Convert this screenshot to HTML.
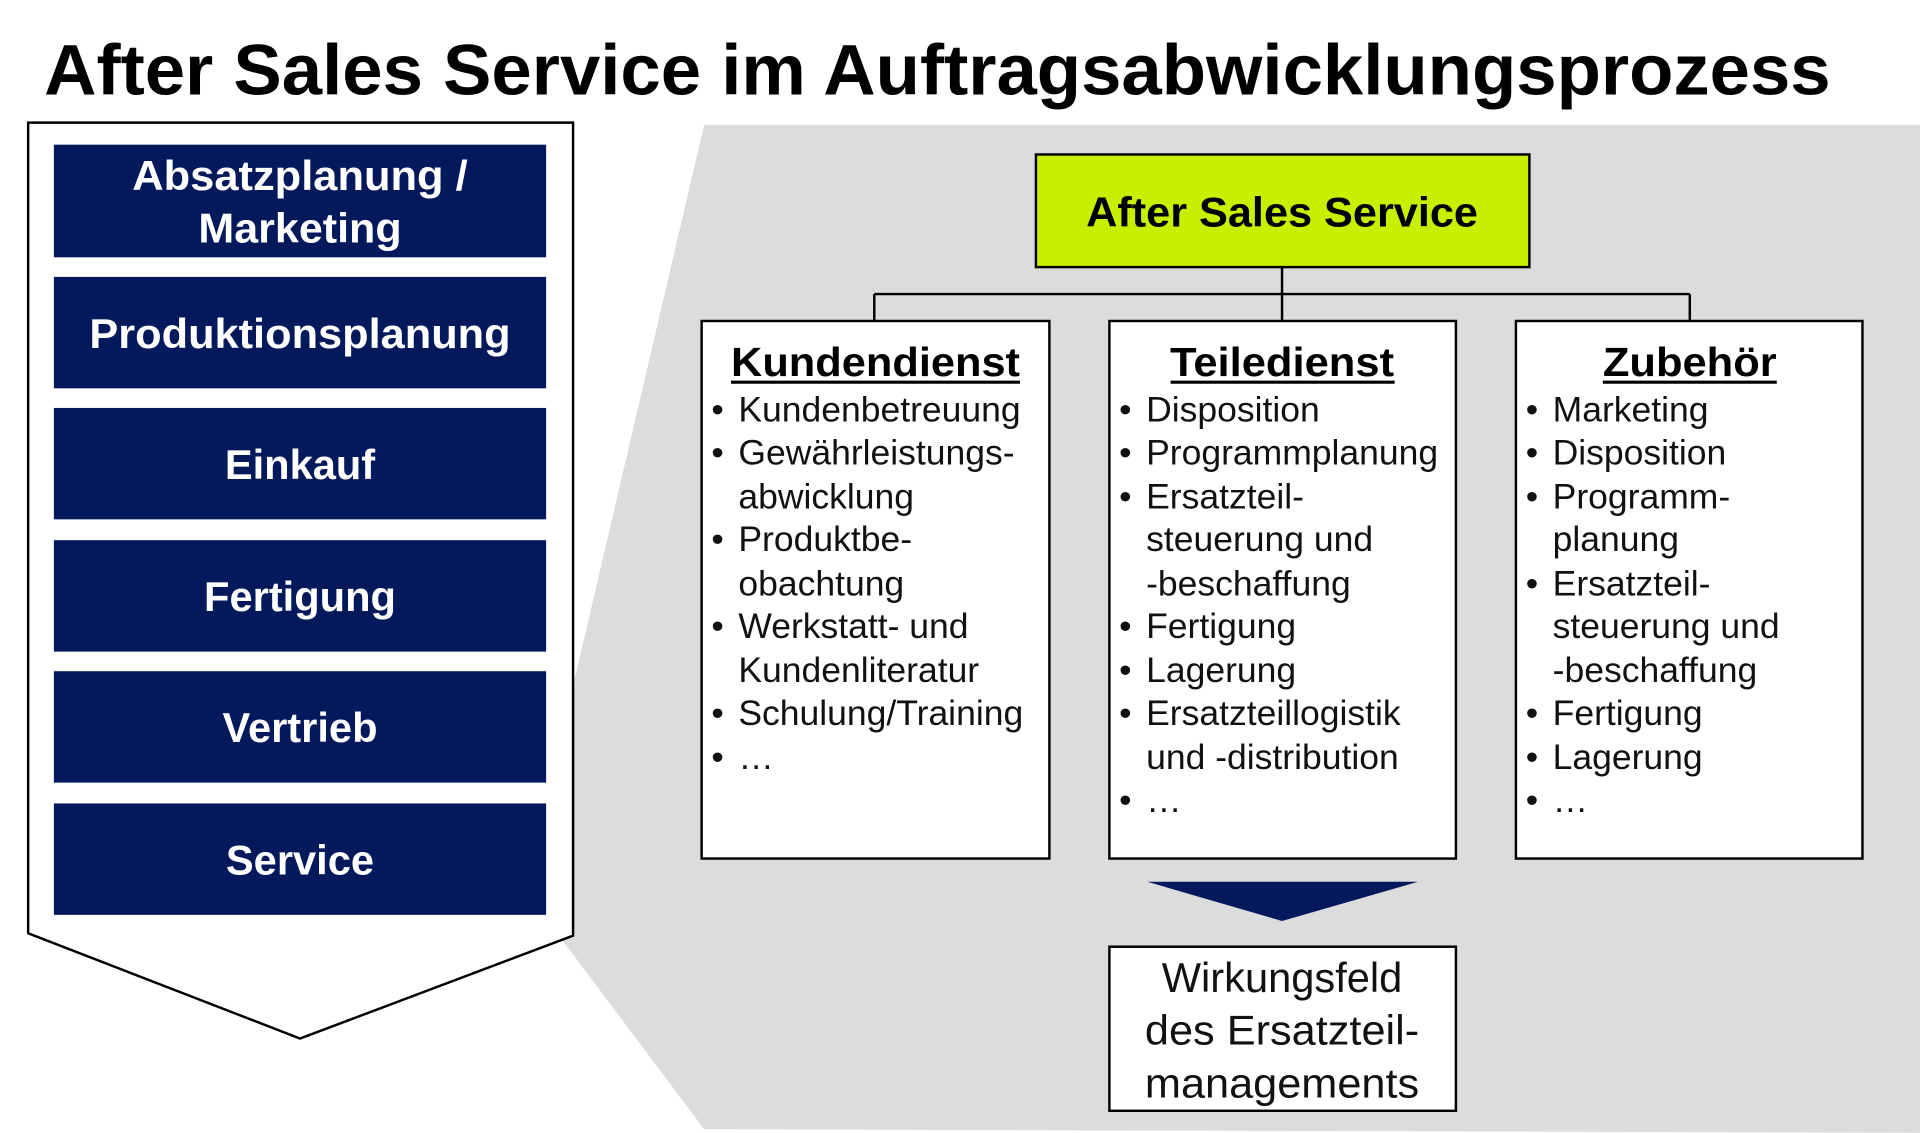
<!DOCTYPE html>
<html><head><meta charset="utf-8"><style>html,body{margin:0;padding:0;background:#fff}svg{display:block}</style></head><body>
<svg width="1920" height="1133" viewBox="0 0 1568 925" xmlns="http://www.w3.org/2000/svg" font-family="Liberation Sans, Arial, sans-serif">
<rect width="1568" height="925" fill="#fff"/>
<polygon points="575,102 1568,102 1568,925 575,922 458,766 447,650" fill="#dcdcdc"/>
<text x="36" y="77" font-size="58" font-weight="bold" textLength="1459" lengthAdjust="spacingAndGlyphs">After Sales Service im Auftragsabwicklungsprozess</text>
<polygon points="23,100 468,100 468,764 245,848 23,762" fill="#fff" stroke="#000" stroke-width="2"/>
<g fill="#03195c">
<rect x="44" y="118" width="402" height="92"/><rect x="44" y="226" width="402" height="91"/><rect x="44" y="333" width="402" height="91"/><rect x="44" y="441" width="402" height="91"/><rect x="44" y="548" width="402" height="91"/><rect x="44" y="656" width="402" height="91"/>
</g>
<g fill="#fff" font-weight="bold" font-size="34" text-anchor="middle">
<text x="245" y="155" textLength="274" lengthAdjust="spacingAndGlyphs">Absatzplanung /</text><text x="245" y="198" textLength="166" lengthAdjust="spacingAndGlyphs">Marketing</text>
<text x="245" y="284" textLength="344" lengthAdjust="spacingAndGlyphs">Produktionsplanung</text>
<text x="245" y="391">Einkauf</text>
<text x="245" y="499">Fertigung</text>
<text x="245" y="606">Vertrieb</text>
<text x="245" y="714">Service</text>
</g>
<rect x="846" y="126" width="403" height="92" fill="#c8ee00" stroke="#000" stroke-width="2"/>
<text x="1047" y="185" font-size="34" font-weight="bold" text-anchor="middle" textLength="320" lengthAdjust="spacingAndGlyphs">After Sales Service</text>
<g stroke="#000" stroke-width="2" fill="none">
<line x1="1047" y1="218" x2="1047" y2="262"/><line x1="714" y1="240" x2="1380" y2="240"/><line x1="714" y1="240" x2="714" y2="262"/><line x1="1380" y1="240" x2="1380" y2="262"/>
</g>
<g fill="#fff" stroke="#000" stroke-width="2">
<rect x="573" y="262" width="284" height="439"/><rect x="906" y="262" width="283" height="439"/><rect x="1238" y="262" width="283" height="439"/>
<rect x="906" y="773" width="283" height="134"/>
</g>
<g font-size="33" font-weight="bold" text-anchor="middle">
<text x="715" y="307" textLength="236" lengthAdjust="spacingAndGlyphs">Kundendienst</text><text x="1047" y="307" textLength="183" lengthAdjust="spacingAndGlyphs">Teiledienst</text><text x="1380" y="307" textLength="142" lengthAdjust="spacingAndGlyphs">Zubehör</text>
</g>
<g stroke="#000" stroke-width="2.5"><line x1="597" y1="312" x2="833" y2="312"/><line x1="956" y1="312" x2="1139" y2="312"/><line x1="1309" y1="312" x2="1451" y2="312"/></g>
<g font-size="29" fill="#111">
<text x="581" y="344">•</text><text x="603" y="344">Kundenbetreuung</text>
<text x="581" y="379">•</text><text x="603" y="379">Gewährleistungs-</text>
<text x="603" y="415">abwicklung</text>
<text x="581" y="450">•</text><text x="603" y="450">Produktbe-</text>
<text x="603" y="486">obachtung</text>
<text x="581" y="521">•</text><text x="603" y="521">Werkstatt- und</text>
<text x="603" y="557">Kundenliteratur</text>
<text x="581" y="592">•</text><text x="603" y="592">Schulung/Training</text>
<text x="581" y="628">•</text><text x="603" y="628">…</text>

<text x="914" y="344">•</text><text x="936" y="344">Disposition</text>
<text x="914" y="379">•</text><text x="936" y="379">Programmplanung</text>
<text x="914" y="415">•</text><text x="936" y="415">Ersatzteil-</text>
<text x="936" y="450">steuerung und</text>
<text x="936" y="486">-beschaffung</text>
<text x="914" y="521">•</text><text x="936" y="521">Fertigung</text>
<text x="914" y="557">•</text><text x="936" y="557">Lagerung</text>
<text x="914" y="592">•</text><text x="936" y="592">Ersatzteillogistik</text>
<text x="936" y="628">und -distribution</text>
<text x="914" y="663">•</text><text x="936" y="663">…</text>

<text x="1246" y="344">•</text><text x="1268" y="344">Marketing</text>
<text x="1246" y="379">•</text><text x="1268" y="379">Disposition</text>
<text x="1246" y="415">•</text><text x="1268" y="415">Programm-</text>
<text x="1268" y="450">planung</text>
<text x="1246" y="486">•</text><text x="1268" y="486">Ersatzteil-</text>
<text x="1268" y="521">steuerung und</text>
<text x="1268" y="557">-beschaffung</text>
<text x="1246" y="592">•</text><text x="1268" y="592">Fertigung</text>
<text x="1246" y="628">•</text><text x="1268" y="628">Lagerung</text>
<text x="1246" y="663">•</text><text x="1268" y="663">…</text>
</g>
<polygon points="937,720 1158,720 1047,752" fill="#03195c"/>
<g font-size="34" text-anchor="middle" fill="#111">
<text x="1047" y="810">Wirkungsfeld</text><text x="1047" y="853" textLength="224" lengthAdjust="spacingAndGlyphs">des Ersatzteil-</text><text x="1047" y="896" textLength="224" lengthAdjust="spacingAndGlyphs">managements</text>
</g>
</svg>
</body></html>
